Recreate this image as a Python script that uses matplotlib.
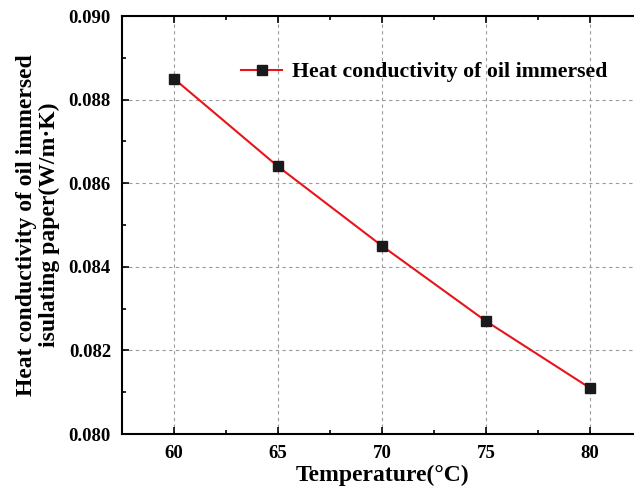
import matplotlib
matplotlib.use("Agg")
import matplotlib.pyplot as plt
from matplotlib.ticker import MultipleLocator

temperature = [60, 65, 70, 75, 80]
conductivity = [0.0885, 0.0864, 0.0845, 0.0827, 0.0811]
series_label = "Heat conductivity of oil immersed"
xlabel = "Temperature(\u00b0C)"
ylabel = "Heat conductivity of oil immersed\nisulating paper(W/m\u00b7K)"

plt.rcParams['font.family'] = ['Liberation Serif', 'DejaVu Serif']
plt.rcParams['font.weight'] = 'bold'

fig = plt.figure(figsize=(6.34, 4.91), dpi=100)
W, H = 634, 491
left, right, top, bottom = 122, 642, 16, 434
ax = fig.add_axes([left / W, 1 - bottom / H, (right - left) / W, (bottom - top) / H])

ax.plot(temperature, conductivity, color='#e8141b', lw=1.5, marker='s',
        markersize=6.5, markerfacecolor='#1a1a1a', markeredgecolor='#1a1a1a',
        label=series_label)

ax.set_xlim(57.5, 82.5)
ax.set_ylim(0.080, 0.090)
ax.xaxis.set_major_locator(MultipleLocator(5))
ax.xaxis.set_minor_locator(MultipleLocator(2.5))
ax.yaxis.set_major_locator(MultipleLocator(0.002))
ax.yaxis.set_minor_locator(MultipleLocator(0.001))
ax.yaxis.set_major_formatter(matplotlib.ticker.FormatStrFormatter('%.3f'))

ax.grid(True, which='major', linestyle=(0, (3, 3)), color='#9a9a9a', lw=0.8)
ax.tick_params(which='both', direction='in', top=True, right=False,
               labelsize=13.5, width=1.2)
ax.tick_params(axis='y', which='major', length=5, pad=8)
ax.tick_params(axis='x', which='major', length=5, pad=8)
ax.tick_params(which='minor', length=3)
for lab in ax.get_xticklabels() + ax.get_yticklabels():
    lab.set_fontweight('bold')
for s in ['left', 'bottom', 'top']:
    ax.spines[s].set_linewidth(1.5)
ax.spines['right'].set_visible(False)

ax.set_xlabel(xlabel, fontsize=17, fontweight='bold', labelpad=2)
ax.set_ylabel(ylabel, fontsize=17, fontweight='bold', labelpad=6, linespacing=1.15)

leg = ax.legend(loc='upper left', bbox_to_anchor=(0.192, 0.937), frameon=False,
                handlelength=1.85, handletextpad=0.45,
                prop={'weight': 'bold', 'size': 15.7})

fig.savefig("out.png", dpi=100)
